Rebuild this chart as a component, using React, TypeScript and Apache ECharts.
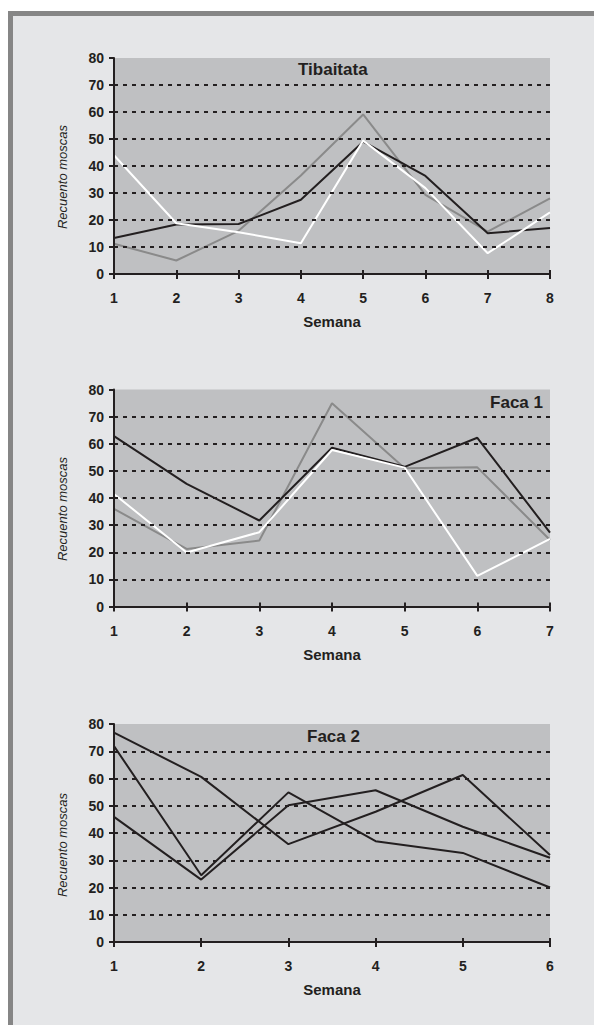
import React, { useEffect, useRef } from "react";
import * as echarts from "echarts";

// ---- Data ----
const weeksTibaitata = ["1", "2", "3", "4", "5", "6", "7", "8"];
const tibaitataBlack = [13.3, 18.3, 18.5, 27.5, 49, 36.3, 15.1, 17];
const tibaitataGray = [11.2, 5, 16, 36.5, 59.1, 29.3, 15.7, 28];
const tibaitataWhite = [44, 18.8, 15.5, 11.4, 49.4, 31.8, 7.7, 22.8];

const weeksFaca1 = ["1", "2", "3", "4", "5", "6", "7"];
const faca1Black = [62.8, 45.2, 31.7, 58.5, 51.5, 62.2, 27.2];
const faca1Gray = [36, 21.2, 24.3, 74.9, 51, 51.3, 24.5];
const faca1White = [41.5, 19.9, 27.4, 57.7, 51.2, 11.3, 24.9];

const weeksFaca2 = ["1", "2", "3", "4", "5", "6"];
const faca2A = [76.8, 60.6, 35.9, 47.8, 61.3, 31.9];
const faca2B = [71.9, 24.5, 54.9, 37, 32.7, 20];
const faca2C = [45.9, 22.9, 50.2, 55.7, 42.3, 30.9];

const chartTitles = ["Tibaitata", "Faca 1", "Faca 2"];
const yAxisTitle = "Recuento moscas";
const xAxisTitle = "Semana";
const yMin = 0;
const yMax = 80;
const yStep = 10;

// ---- Styles ----
const FONT = "'Liberation Sans', Arial, Helvetica, sans-serif";
const INK = "#231f20";
const PLOT_BG = "#bfc0c2";
const GRAY_LINE = "#8a8a8a";
const WHITE_LINE = "#ffffff";

const grids = [
  { left: 114, top: 58, width: 436, height: 216 },
  { left: 114, top: 389.5, width: 436, height: 217 },
  { left: 114, top: 724, width: 436, height: 218 },
];

function buildOption() {
  const cats = [weeksTibaitata, weeksFaca1, weeksFaca2];
  const xAxes: any[] = [];
  const yAxes: any[] = [];
  grids.forEach((g, i) => {
    xAxes.push({
      type: "category",
      gridIndex: i,
      data: cats[i],
      boundaryGap: false,
      name: xAxisTitle,
      nameLocation: "middle",
      nameGap: 40,
      nameTextStyle: { fontFamily: FONT, fontWeight: "bold", fontSize: 15, color: INK },
      axisLine: { show: true, onZero: false, lineStyle: { color: INK, width: 2 } },
      axisTick: { show: true, alignWithLabel: true, inside: false, length: 5, lineStyle: { color: INK, width: 2 } },
      axisLabel: { fontFamily: FONT, fontWeight: "bold", fontSize: 14, color: INK, margin: 17 },
      splitLine: { show: false },
      z: 5,
    });
    // companion axis for the inner half of the crossing ticks
    xAxes.push({
      type: "category",
      gridIndex: i,
      data: cats[i],
      boundaryGap: false,
      position: "bottom",
      axisLine: { show: false, onZero: false },
      axisTick: { show: true, inside: true, length: 4, lineStyle: { color: INK, width: 2 } },
      axisLabel: { show: false },
      splitLine: { show: false },
      z: 5,
    });
    yAxes.push({
      type: "value",
      gridIndex: i,
      min: yMin,
      max: yMax,
      interval: yStep,
      axisLine: { show: true, lineStyle: { color: INK, width: 2 } },
      axisTick: { show: true, inside: false, length: 5, lineStyle: { color: INK, width: 2 } },
      axisLabel: { fontFamily: FONT, fontWeight: "bold", fontSize: 14, color: INK, margin: 10 },
      splitLine: {
        show: true,
        lineStyle: {
          color: [INK, INK, INK, INK, INK, INK, INK, INK, "rgba(0,0,0,0)"],
          width: 2,
          type: [4, 5],
        },
      },
      z: 5,
    });
  });

  const line = (name: string, data: number[], idx: number, color: string) => ({
    name,
    type: "line",
    xAxisIndex: idx * 2,
    yAxisIndex: idx,
    data,
    showSymbol: false,
    symbol: "none",
    lineStyle: { color, width: 2 },
    itemStyle: { color },
    z: 3,
  });

  const series = [
    line("Tibaitata gris", tibaitataGray, 0, GRAY_LINE),
    line("Tibaitata negro", tibaitataBlack, 0, INK),
    line("Tibaitata blanco", tibaitataWhite, 0, WHITE_LINE),
    line("Faca 1 gris", faca1Gray, 1, GRAY_LINE),
    line("Faca 1 negro", faca1Black, 1, INK),
    line("Faca 1 blanco", faca1White, 1, WHITE_LINE),
    line("Faca 2 A", faca2A, 2, INK),
    line("Faca 2 B", faca2B, 2, INK),
    line("Faca 2 C", faca2C, 2, INK),
  ];

  const yNameCenters = [177, 509, 845];
  const titleSpecs = [
    { x: 298, y: 69, align: "left" },
    { x: 543, y: 402, align: "right" },
    { x: 307, y: 736, align: "left" },
  ];

  const graphic: any[] = [];
  yNameCenters.forEach((cy) => {
    graphic.push({
      type: "text",
      x: 62,
      y: cy,
      rotation: Math.PI / 2,
      z: 10,
      style: {
        text: yAxisTitle,
        align: "center",
        verticalAlign: "middle",
        fontFamily: FONT,
        fontStyle: "italic",
        fontSize: 13,
        fill: INK,
      },
    });
  });
  titleSpecs.forEach((t, i) => {
    graphic.push({
      type: "text",
      x: t.x,
      y: t.y,
      z: 10,
      style: {
        text: chartTitles[i],
        align: t.align,
        verticalAlign: "middle",
        fontFamily: FONT,
        fontWeight: "bold",
        fontSize: 17,
        fill: INK,
      },
    });
  });

  return {
    animation: false,
    backgroundColor: "transparent",
    grid: grids.map((g) => ({
      ...g,
      show: true,
      backgroundColor: PLOT_BG,
      borderWidth: 0,
      containLabel: false,
    })),
    xAxis: xAxes,
    yAxis: yAxes,
    series,
    graphic,
  };
}

export default function App() {
  const ref = useRef<HTMLDivElement>(null);
  useEffect(() => {
    if (!ref.current) return;
    const chart = echarts.init(ref.current, undefined, { renderer: "svg" });
    chart.setOption(buildOption() as any);
    return () => chart.dispose();
  }, []);
  return (
    <div style={{ position: "fixed", left: 0, top: 0, width: 594, height: 1025, background: "#ffffff", overflow: "hidden" }}>
      <div
        style={{
          position: "absolute",
          left: 8,
          top: 11,
          width: 586,
          height: 1014,
          boxSizing: "border-box",
          background: "#e5e6e8",
          borderLeft: "5px solid #868686",
          borderTop: "5px solid #868686",
        }}
      />
      <div ref={ref} style={{ position: "absolute", left: 0, top: 0, width: 594, height: 1025 }} />
    </div>
  );
}
